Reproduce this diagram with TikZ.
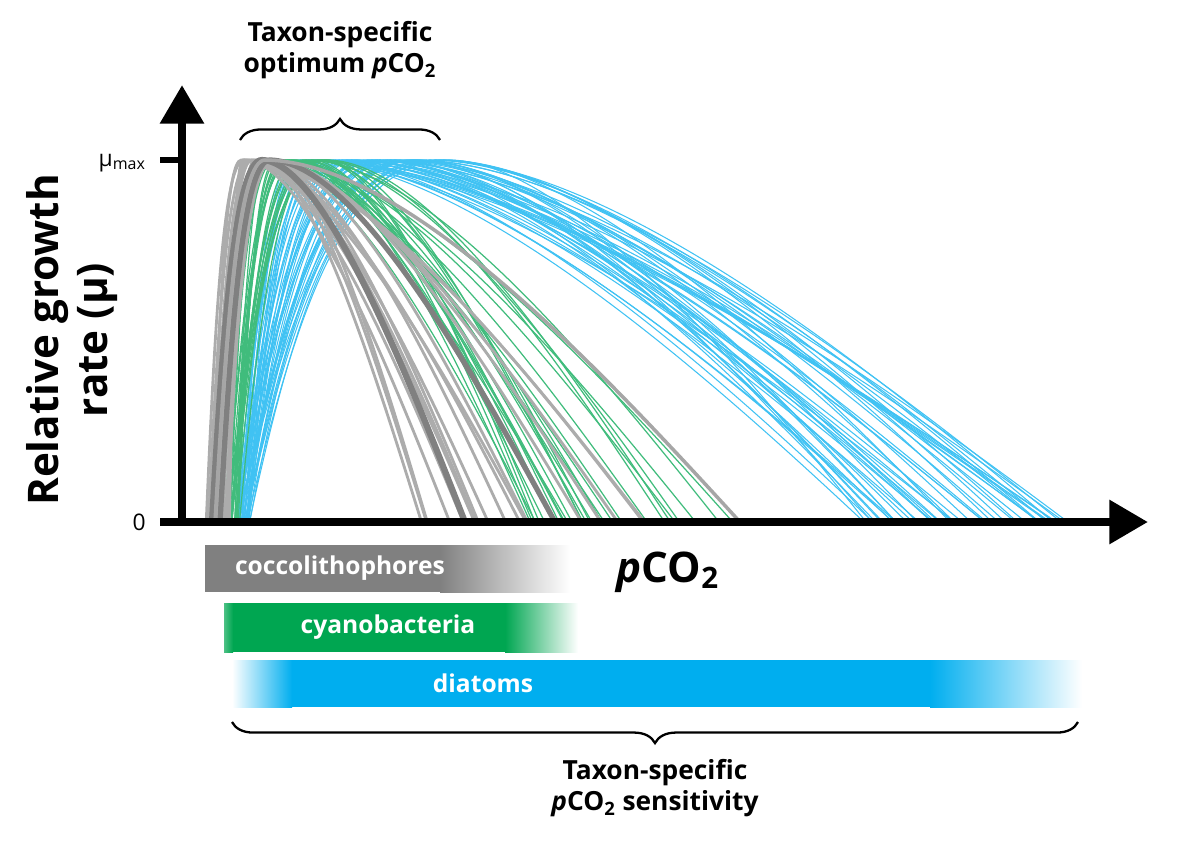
\documentclass[tikz,border=0pt]{standalone}
\usepackage{fontspec}
\setmainfont{Open Sans}
\usetikzlibrary{decorations.pathreplacing, arrows.meta}
\definecolor{cocco}{RGB}{128,128,128}
\definecolor{cyano}{RGB}{0,166,81}
\definecolor{diat}{RGB}{0,174,239}
\tikzset{
  axis/.style={line width=5pt, -{Triangle[length=22pt,width=24pt]}},
  brace/.style={decorate, decoration={brace, amplitude=12pt}, line width=1.3pt},
  barlabel/.style={text=white, font=\bfseries\fontsize{14}{17}\selectfont},
  bold label/.style={font=\bfseries\fontsize{15}{18}\selectfont, align=center}
}
\newcommand{\growth}[5]{% start, peak, end, bend, style
  \draw[#5] (#1,522) .. controls ({#1+0.25*(#2-#1)},300) and ({#2-0.5*(#2-#1)},160) .. (#2,160)
    .. controls ({#2+0.3*(#3-#2)},162) and ({#3-#4*(#3-#2)},{522-#4*520}) .. (#3,522);}
\begin{document}
\begin{tikzpicture}[x=0.02cm, y=-0.02cm]
\useasboundingbox (0,0) rectangle (1200,849);
\pgfmathsetseed{7}

% Curves
\foreach \i in {1,...,50}{
  \pgfmathsetmacro\s{235+15*rnd}\pgfmathsetmacro\p{290+160*rnd}\pgfmathsetmacro\e{860+215*rnd}
  \growth{\s}{\p}{\e}{0.25}{diat!75, line width=0.6pt}
}
\foreach \i in {1,...,30}{
  \pgfmathsetmacro\s{225+15*rnd}\pgfmathsetmacro\p{258+70*rnd}\pgfmathsetmacro\e{530+250*rnd*rnd}
  \growth{\s}{\p}{\e}{0.3}{cyano!75, line width=0.7pt}
}
\foreach \i in {1,...,18}{
  \pgfmathsetmacro\s{205+25*rnd}\pgfmathsetmacro\p{240+35*rnd}\pgfmathsetmacro\e{420+320*rnd*rnd}
  \growth{\s}{\p}{\e}{0.3}{cocco!65, line width=1.6pt}
}
\growth{212}{262}{465}{0.3}{cocco, line width=3.5pt}
\growth{220}{270}{555}{0.3}{cocco, line width=3pt}
\growth{215}{265}{740}{0.3}{cocco!70, line width=2pt}

% Axes
\coordinate (ytip) at (182,85);
\coordinate (xstart) at (160,522);
\coordinate (xtip) at (1148,522);
\draw[axis] (182,525) -- (ytip);
\draw[axis] (xstart) -- (xtip);
\draw[line width=3pt] (160,160) -- (182,160);
\node[anchor=east] (mumax) at (152,163) {\fontsize{13}{15}\selectfont μ\textsubscript{max}};
\node[anchor=east] (zero) at (152,522) {\fontsize{13}{15}\selectfont 0};
\node[bold label, rotate=90, font=\bfseries\fontsize{24}{28}\selectfont] (ylabel) at (72,340) {Relative growth\\rate (μ)};
\node[font=\bfseries\fontsize{24}{28}\selectfont] (xlabel) at (668,572) {\textit{p}CO\textsubscript{2}};

% Bars
\fill[cocco] (205,545) rectangle (440,592);
\shade[left color=cocco, right color=white] (440,545) rectangle (570,592);
\fill[cyano] (232,603) rectangle (505,652);
\shade[left color=cyano!70, right color=cyano] (224,603) rectangle (233,652);
\shade[left color=cyano, right color=white] (505,603) rectangle (578,652);
\shade[left color=white, right color=diat] (232,660) rectangle (292,707);
\fill[diat] (292,660) rectangle (930,707);
\shade[left color=diat, right color=white] (930,660) rectangle (1082,707);
\node[barlabel] (coccoLab) at (340,568) {coccolithophores};
\node[barlabel] (cyanoLab) at (388,627) {cyanobacteria};
\node[barlabel] (diatLab) at (483,683) {diatoms};

% Braces
\coordinate (topL) at (240,140);
\coordinate (topR) at (440,140);
\draw[brace] (topL) -- (topR);
\node[bold label] (optimum) at (340,50) {Taxon-specific\\optimum \textit{p}CO\textsubscript{2}};
\coordinate (botL) at (232,722);
\coordinate (botR) at (1078,722);
\draw[brace] (botR) -- (botL);
\node[bold label] (sensitivity) at (655,788) {Taxon-specific\\\textit{p}CO\textsubscript{2} sensitivity};
\end{tikzpicture}
\end{document}
